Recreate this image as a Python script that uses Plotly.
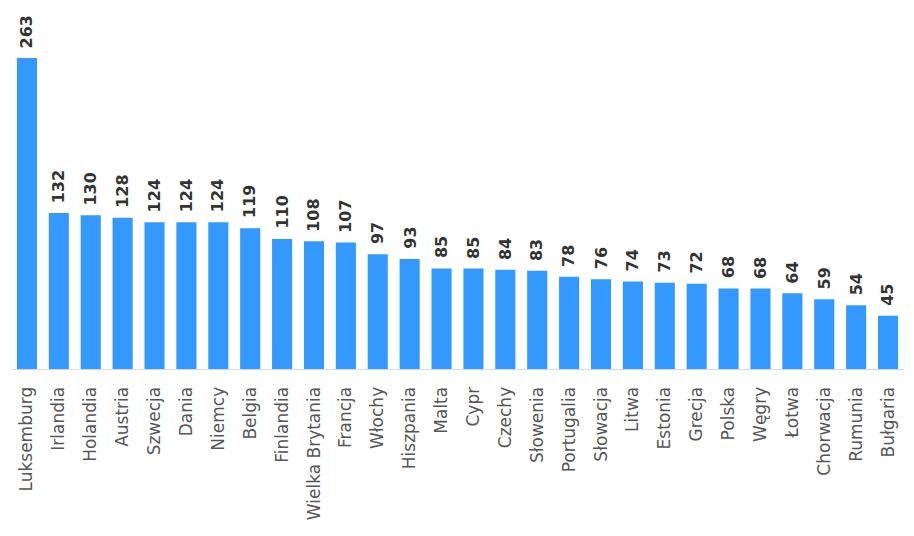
import plotly.graph_objects as go

countries = ["Luksemburg", "Irlandia", "Holandia", "Austria", "Szwecja", "Dania", "Niemcy",
             "Belgia", "Finlandia", "Wielka Brytania", "Francja", "Włochy", "Hiszpania", "Malta",
             "Cypr", "Czechy", "Słowenia", "Portugalia", "Słowacja", "Litwa", "Estonia", "Grecja",
             "Polska", "Węgry", "Łotwa", "Chorwacja", "Rumunia", "Bułgaria"]
values = [263, 132, 130, 128, 124, 124, 124, 119, 110, 108, 107, 97, 93, 85, 85, 84, 83, 78,
          76, 74, 73, 72, 68, 68, 64, 59, 54, 45]

BAR_COLOR = "#3399FF"

fig = go.Figure()
fig.add_trace(go.Bar(x=countries, y=values, marker=dict(color=BAR_COLOR, line=dict(width=0)),
                     hoverinfo="x+y"))

annotations = []
for c, v in zip(countries, values):
    annotations.append(dict(x=c, y=v, text="<b>%d</b>" % v, showarrow=False, textangle=-90,
                            yanchor="bottom", xanchor="center", yshift=8,
                            font=dict(family="DejaVu Sans", size=16, color="#333333")))

fig.update_layout(
    width=914, height=536,
    margin=dict(l=11, r=10, t=10, b=167),
    plot_bgcolor="white", paper_bgcolor="white",
    bargap=0.37,
    showlegend=False,
    annotations=annotations,
    xaxis=dict(showline=True, linecolor="#d9d9d9", linewidth=1, tickangle=-90,
               ticks="outside", ticklen=10, tickcolor="rgba(0,0,0,0)",
               tickfont=dict(family="DejaVu Sans", size=17, color="#555555"),
               showgrid=False),
    yaxis=dict(visible=False, range=[0, 303.6], showgrid=False),
)

fig.write_html("out.html")
